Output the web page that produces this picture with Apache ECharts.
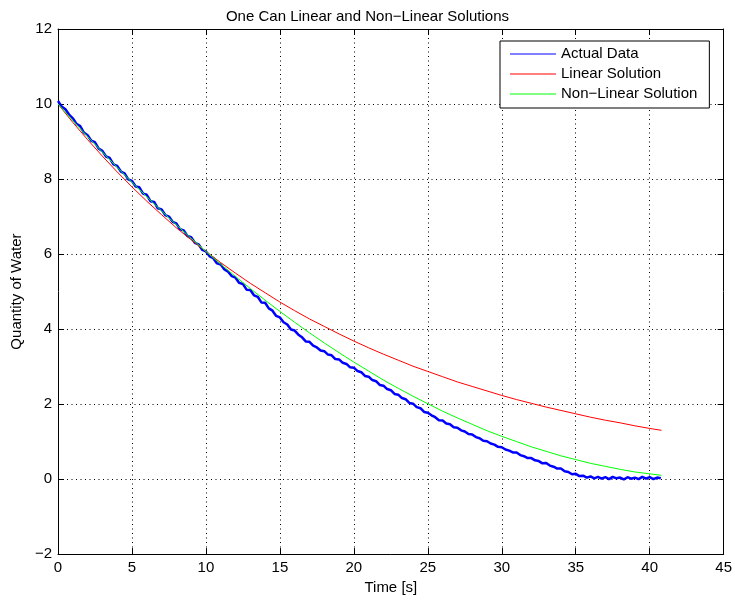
<!DOCTYPE html>
<html>
<head>
<meta charset="utf-8">
<title>One Can Linear and Non-Linear Solutions</title>
<script src="https://cdn.jsdelivr.net/npm/echarts@6/dist/echarts.min.js"></script>
<style>
  html, body { margin: 0; padding: 0; background: #fff; }
  #main { width: 735px; height: 600px; }
</style>
</head>
<body>
<div id="main"></div>
<script>
const sampleDt = 0.25;
const actualData = [
  10.08, 9.93, 9.86, 9.72,   9.62, 9.47, 9.41, 9.24,   9.17, 9.02, 8.98, 8.81,
  8.75, 8.60, 8.56, 8.39,    8.35, 8.20, 8.15, 7.99,   7.95, 7.80, 7.78, 7.61,
  7.58, 7.41, 7.39, 7.22,    7.19, 7.04, 7.00, 6.86,   6.82, 6.66, 6.63, 6.48,
  6.45, 6.30, 6.26, 6.11,    6.07, 5.94, 5.89, 5.75,   5.72, 5.59, 5.53, 5.41,
  5.37, 5.23, 5.20, 5.05,    5.04, 4.90, 4.86, 4.71,   4.70, 4.55, 4.49, 4.35,
  4.31, 4.18, 4.12, 3.99,    3.96, 3.85, 3.78, 3.67,   3.66, 3.56, 3.51, 3.43,
  3.41, 3.32, 3.30, 3.20,    3.19, 3.10, 3.07, 2.98,   2.97, 2.88, 2.85, 2.75,
  2.73, 2.64, 2.61, 2.51,    2.49, 2.40, 2.37, 2.27,   2.25, 2.16, 2.13, 2.03,
  2.01, 1.92, 1.89, 1.79,    1.77, 1.70, 1.65, 1.57,   1.56, 1.48, 1.46, 1.38,
  1.37, 1.30, 1.27, 1.20,    1.19, 1.12, 1.09, 1.02,   1.01, 0.95, 0.92, 0.86,
  0.85, 0.79, 0.76, 0.71,    0.71, 0.64, 0.61, 0.56,   0.56, 0.50, 0.48, 0.42,
  0.43, 0.36, 0.33, 0.28,    0.28, 0.21, 0.19, 0.13,   0.14, 0.08, 0.09, 0.04,
  0.07, 0.02, 0.06, 0.01,    0.05, 0.00, 0.06, 0.02,   0.04, -0.01, 0.05, 0.01,
  0.04, 0.00, 0.06, 0.01,    0.05, 0.00, 0.04, 0.02
];

// model curves
const fitTime = [0, 1, 2, 3, 4, 5, 6, 7, 8, 9, 10, 11, 12, 13, 14, 15, 16, 17, 18, 19, 20,
  21, 22, 23, 24, 25, 26, 27, 28, 29, 30, 31, 32, 33, 34, 35, 36, 37, 38, 39, 40, 40.8];
const linearData = [10.00, 9.51, 9.05, 8.61, 8.19, 7.79, 7.41, 7.05, 6.70, 6.38, 6.07,
  5.77, 5.49, 5.22, 4.97, 4.72, 4.49, 4.27, 4.07, 3.87, 3.68, 3.50, 3.33, 3.17, 3.01,
  2.87, 2.73, 2.59, 2.47, 2.35, 2.23, 2.12, 2.02, 1.92, 1.83, 1.74, 1.65, 1.57, 1.50,
  1.42, 1.35, 1.30];
const nonLinearData = [10.00, 9.56, 9.13, 8.72, 8.31, 7.91, 7.53, 7.15, 6.78, 6.42, 6.07,
  5.73, 5.40, 5.08, 4.77, 4.47, 4.18, 3.90, 3.63, 3.37, 3.12, 2.88, 2.64, 2.42, 2.21,
  2.01, 1.81, 1.63, 1.46, 1.29, 1.14, 1.00, 0.86, 0.74, 0.62, 0.52, 0.42, 0.34, 0.26,
  0.19, 0.14, 0.10];

const seriesNames = ['Actual Data', 'Linear Solution', 'Non\u2212Linear Solution'];
const seriesColors = ['#0000ff', '#ff0000', '#00ff00'];

const font = 'Liberation Sans, Arial, Helvetica, sans-serif';
const minus = v => String(v).replace('-', '\u2212');

let myChart = echarts.init(document.getElementById('main'));

const gridLine = { show: true, lineStyle: { color: '#000', width: 1, type: [1, 3.5] } };
const boxLine = { show: true, onZero: false, lineStyle: { color: '#000', width: 1 } };
const tick = { show: true, inside: true, length: 6, lineStyle: { color: '#000' } };

let option = {
  animation: false,
  backgroundColor: '#fff',
  textStyle: { fontFamily: font },
  title: {
    text: 'One Can Linear and Non\u2212Linear Solutions',
    left: 'center',
    top: 4,
    textStyle: { fontFamily: font, fontSize: 15, fontWeight: 'normal', color: '#000' }
  },
  grid: { left: 58, right: 10, top: 29, bottom: 43 },
  legend: {
    orient: 'vertical',
    left: 500,
    top: 41,
    padding: [5, 12, 6, 10],
    itemGap: 4,
    itemWidth: 46,
    itemHeight: 1,
    icon: 'rect',
    backgroundColor: '#fff',
    borderColor: '#000',
    borderWidth: 1,
    textStyle: { fontFamily: font, fontSize: 15, color: '#000', lineHeight: 16 },
    data: seriesNames
  },
  xAxis: [
    {
      type: 'value', min: 0, max: 45, interval: 5,
      name: 'Time [s]', nameLocation: 'middle', nameGap: 22,
      nameTextStyle: { fontFamily: font, fontSize: 15, color: '#000' },
      axisLine: boxLine, axisTick: tick,
      axisLabel: { fontFamily: font, fontSize: 15, color: '#000', margin: 6 },
      splitLine: gridLine
    },
    {
      type: 'value', min: 0, max: 45, interval: 5, position: 'top',
      axisLine: boxLine, axisTick: tick, axisLabel: { show: false }, splitLine: { show: false }
    }
  ],
  yAxis: [
    {
      type: 'value', min: -2, max: 12, interval: 2,
      name: 'Quantity of Water', nameLocation: 'middle', nameGap: 32,
      nameTextStyle: { fontFamily: font, fontSize: 15, color: '#000' },
      axisLine: boxLine, axisTick: tick,
      axisLabel: { fontFamily: font, fontSize: 15, color: '#000', margin: 6, formatter: minus },
      splitLine: gridLine
    },
    {
      type: 'value', min: -2, max: 12, interval: 2, position: 'right',
      axisLine: boxLine, axisTick: tick, axisLabel: { show: false }, splitLine: { show: false }
    }
  ],
  series: [
    {
      name: seriesNames[0], type: 'line', symbol: 'none',
      color: seriesColors[0], lineStyle: { width: 2.5, color: seriesColors[0] },
      data: actualData.map((v, i) => [i * sampleDt, v])
    },
    {
      name: seriesNames[1], type: 'line', symbol: 'none',
      color: seriesColors[1], lineStyle: { width: 1, color: seriesColors[1] },
      data: fitTime.map((t, i) => [t, linearData[i]])
    },
    {
      name: seriesNames[2], type: 'line', symbol: 'none',
      color: seriesColors[2], lineStyle: { width: 1, color: seriesColors[2] },
      data: fitTime.map((t, i) => [t, nonLinearData[i]])
    }
  ]
};

myChart.setOption(option);
</script>
</body>
</html>
